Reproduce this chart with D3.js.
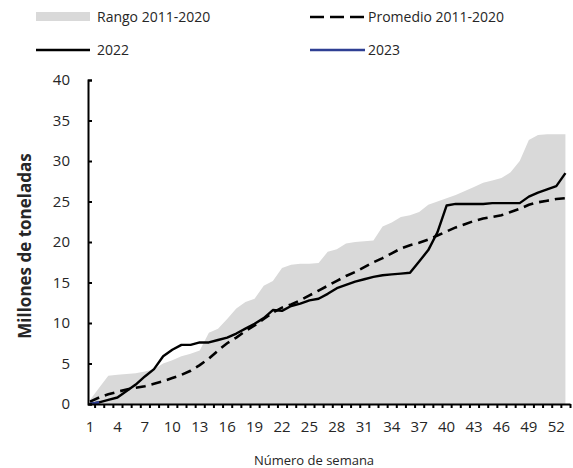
<!DOCTYPE html>
<html>
<head>
<meta charset="utf-8">
<script src="https://cdn.jsdelivr.net/npm/d3@7"></script>
<style>
  body { margin: 0; background: #fff; }
  text { font-family: "Open Sans", sans-serif; fill: #262626; }
</style>
</head>
<body>
<div id="chart"></div>
<script>
var weeks = d3.range(1, 54);

var rangoMax = [0.5, 2.0, 3.5, 3.6, 3.7, 3.8, 4.0, 4.3, 5.0, 5.4,
  5.9, 6.2, 6.6, 8.8, 9.3, 10.5, 11.8, 12.6, 13.0, 14.6,
  15.2, 16.8, 17.2, 17.3, 17.3, 17.4, 18.8, 19.1, 19.8, 20.0,
  20.1, 20.2, 21.9, 22.4, 23.1, 23.3, 23.7, 24.6, 25.0, 25.4,
  25.8, 26.3, 26.8, 27.3, 27.6, 27.9, 28.6, 30.0, 32.6, 33.2,
  33.3, 33.3, 33.3];

var promedio = [0.3, 0.8, 1.2, 1.5, 1.8, 2.0, 2.2, 2.5, 2.8, 3.2,
  3.6, 4.1, 4.8, 5.6, 6.6, 7.5, 8.2, 9.0, 9.7, 10.5,
  11.3, 11.9, 12.3, 12.8, 13.4, 14.0, 14.6, 15.2, 15.8, 16.3,
  16.9, 17.5, 18.0, 18.6, 19.2, 19.6, 19.9, 20.3, 20.8, 21.3,
  21.8, 22.2, 22.6, 22.9, 23.1, 23.3, 23.7, 24.1, 24.6, 24.9,
  25.1, 25.3, 25.4];

var serie2022 = [0, 0.2, 0.5, 0.8, 1.6, 2.4, 3.4, 4.3, 5.9, 6.7,
  7.3, 7.3, 7.6, 7.6, 7.9, 8.2, 8.7, 9.3, 9.9, 10.6,
  11.6, 11.5, 12.1, 12.4, 12.8, 13.0, 13.6, 14.3, 14.7, 15.1,
  15.4, 15.7, 15.9, 16.0, 16.1, 16.2, 17.6, 19.0, 21.2, 24.5,
  24.7, 24.7, 24.7, 24.7, 24.8, 24.8, 24.8, 24.8, 25.6, 26.1,
  26.5, 26.9, 28.5];

var serie2023 = [0, 0.2];

var yTicks = [0, 5, 10, 15, 20, 25, 30, 35, 40];
var xLabels = d3.range(1, 53, 3);

var W = 573, H = 468;
var margin = {top: 80, right: 3, bottom: 64, left: 88};

var svg = d3.select("#chart")
  .append("svg")
    .attr("width", W)
    .attr("height", H);

var x = d3.scaleLinear()
  .domain([0.78, 53.5])
  .range([margin.left, W - margin.right]);

var y = d3.scaleLinear()
  .domain([0, 40])
  .range([H - margin.bottom, margin.top]);

// rango (area gris)
svg.append("path")
  .datum(weeks)
  .attr("fill", "#d9d9d9")
  .attr("d", d3.area()
    .x(function (d) { return x(d); })
    .y0(y(0))
    .y1(function (d, i) { return y(rangoMax[i]); }));

var line = function (vals) {
  return d3.line()
    .x(function (d, i) { return x(i + 1); })
    .y(function (d) { return y(d); })(vals);
};

svg.append("path")
  .attr("d", line(promedio))
  .attr("fill", "none")
  .attr("stroke", "#000")
  .attr("stroke-width", 2.6)
  .attr("stroke-dasharray", "10,6");

svg.append("path")
  .attr("d", line(serie2022))
  .attr("fill", "none")
  .attr("stroke", "#000")
  .attr("stroke-width", 2.4)
  .attr("stroke-linejoin", "round");

svg.append("path")
  .attr("d", line(serie2023))
  .attr("fill", "none")
  .attr("stroke", "#2e3f93")
  .attr("stroke-width", 2.6);

// eje y
var yAxis = svg.append("g")
  .attr("transform", "translate(" + margin.left + ",0)")
  .call(d3.axisRight(y).tickValues(yTicks).tickSize(4).tickFormat(""));
yAxis.selectAll("line").attr("stroke", "#000").attr("stroke-width", 2);
yAxis.select(".domain").attr("stroke", "#000").attr("stroke-width", 2);

svg.append("g")
  .selectAll("text")
  .data(yTicks)
  .enter()
  .append("text")
    .attr("x", 70)
    .attr("y", function (d) { return y(d); })
    .attr("dy", "0.35em")
    .attr("text-anchor", "end")
    .style("font-size", "15px")
    .text(function (d) { return d; });

// eje x
var xAxis = svg.append("g")
  .attr("transform", "translate(0," + y(0) + ")")
  .call(d3.axisBottom(x)
    .tickValues(d3.range(1.5, 54, 1))
    .tickSize(4)
    .tickSizeOuter(0)
    .tickFormat(""));
xAxis.selectAll("line").attr("stroke", "#000").attr("stroke-width", 2);
xAxis.select(".domain").attr("stroke", "#000").attr("stroke-width", 2);

svg.append("g")
  .selectAll("text")
  .data(xLabels)
  .enter()
  .append("text")
    .attr("x", function (d) { return x(d); })
    .attr("y", 427)
    .attr("dy", "0.35em")
    .attr("text-anchor", "middle")
    .style("font-size", "15px")
    .text(function (d) { return d; });

// titulos
svg.append("text")
  .attr("x", 314)
  .attr("y", 460)
  .attr("dy", "0.35em")
  .attr("text-anchor", "middle")
  .style("font-size", "13px")
  .text("Número de semana");

svg.append("text")
  .attr("transform", "translate(25,246) rotate(-90)")
  .attr("dy", "0.35em")
  .attr("text-anchor", "middle")
  .style("font-size", "17px")
  .style("font-weight", "bold")
  .text("Millones de toneladas");

// leyenda
var leg = svg.append("g");
leg.append("rect")
  .attr("x", 36).attr("y", 12)
  .attr("width", 54).attr("height", 9)
  .attr("fill", "#d9d9d9");
leg.append("text").attr("x", 97).attr("y", 17).attr("dy", "0.35em")
  .style("font-size", "14px").text("Rango 2011-2020");

leg.append("line")
  .attr("x1", 310).attr("x2", 364).attr("y1", 17).attr("y2", 17)
  .attr("stroke", "#000").attr("stroke-width", 2.6)
  .attr("stroke-dasharray", "14,6");
leg.append("text").attr("x", 368).attr("y", 17).attr("dy", "0.35em")
  .style("font-size", "14px").text("Promedio 2011-2020");

leg.append("line")
  .attr("x1", 36).attr("x2", 90).attr("y1", 50).attr("y2", 50)
  .attr("stroke", "#000").attr("stroke-width", 2.4);
leg.append("text").attr("x", 97).attr("y", 50).attr("dy", "0.35em")
  .style("font-size", "14px").text("2022");

leg.append("line")
  .attr("x1", 310).attr("x2", 365).attr("y1", 50).attr("y2", 50)
  .attr("stroke", "#2e3f93").attr("stroke-width", 2.6);
leg.append("text").attr("x", 368).attr("y", 50).attr("dy", "0.35em")
  .style("font-size", "14px").text("2023");
</script>
</body>
</html>
